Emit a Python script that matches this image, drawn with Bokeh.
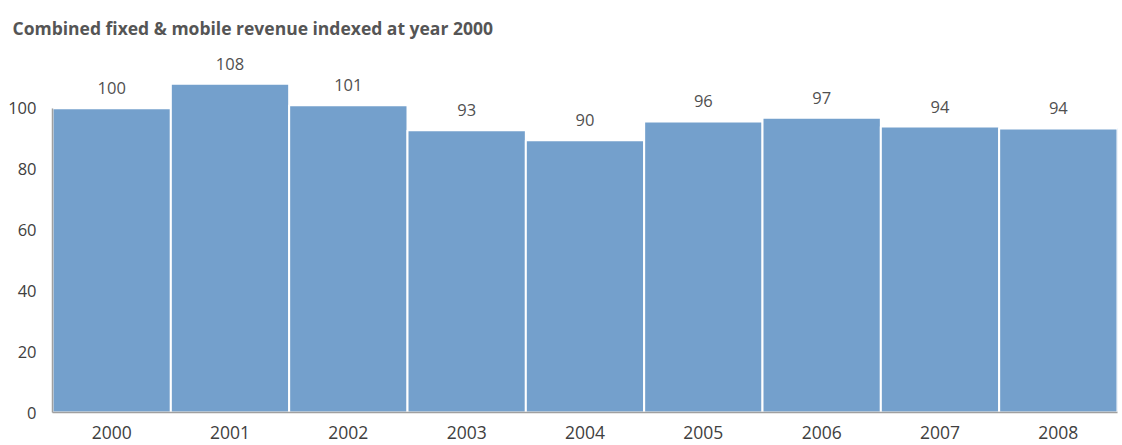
from bokeh.plotting import figure
from bokeh.models import ColumnDataSource, FactorRange, Range1d
from bokeh.core.properties import value
from bokeh.embed import file_html
from bokeh.resources import INLINE

years = ["2000", "2001", "2002", "2003", "2004", "2005", "2006", "2007", "2008"]
revenue_index = [100, 108.1, 101, 92.8, 89.5, 95.7, 96.9, 94.0, 93.4]
labels = ["100", "108", "101", "93", "90", "96", "97", "94", "94"]
y_ticks = [0, 20, 40, 60, 80, 100]
title_text = "Combined fixed & mobile revenue indexed at year 2000"

src = ColumnDataSource(dict(x=years, y=revenue_index, lab=labels))

p = figure(width=1122, height=445, x_range=FactorRange(*years, range_padding=0),
           y_range=Range1d(0, 120), output_backend="svg", toolbar_location=None,
           min_border_left=52, min_border_right=5, min_border_top=47, min_border_bottom=33)

p.vbar(x="x", top="y", width=1.0, source=src, fill_color="#74a0cc",
       line_color="white", line_width=2)
p.text(x="x", y="y", text="lab", source=src, text_align="center", text_baseline="middle",
       y_offset=-20, text_font=value("Open Sans"), text_font_size="16.5px", text_color="#505050")

p.title.text = title_text
p.title.text_font = "Open Sans"
p.title.text_font_size = "17.5px"
p.title.text_font_style = "bold"
p.title.text_color = "#555555"
p.title.offset = -40
p.title.standoff = 16

p.grid.grid_line_color = None
p.outline_line_color = None
p.background_fill_color = "white"
p.border_fill_color = "white"

p.yaxis.ticker = y_ticks
p.yaxis.bounds = (0, 100)
p.axis.axis_line_color = "#a0a0a0"
p.axis.axis_line_width = 1.5
p.axis.major_tick_line_color = None
p.axis.minor_tick_line_color = None
p.axis.major_label_text_font = "Open Sans"
p.axis.major_label_text_color = "#404040"
p.yaxis.major_label_text_font_size = "16.5px"
p.xaxis.major_label_text_font_size = "17.5px"
p.yaxis.major_label_standoff = 10
p.xaxis.major_label_standoff = 7

open("out.html", "w").write(file_html(p, INLINE))
